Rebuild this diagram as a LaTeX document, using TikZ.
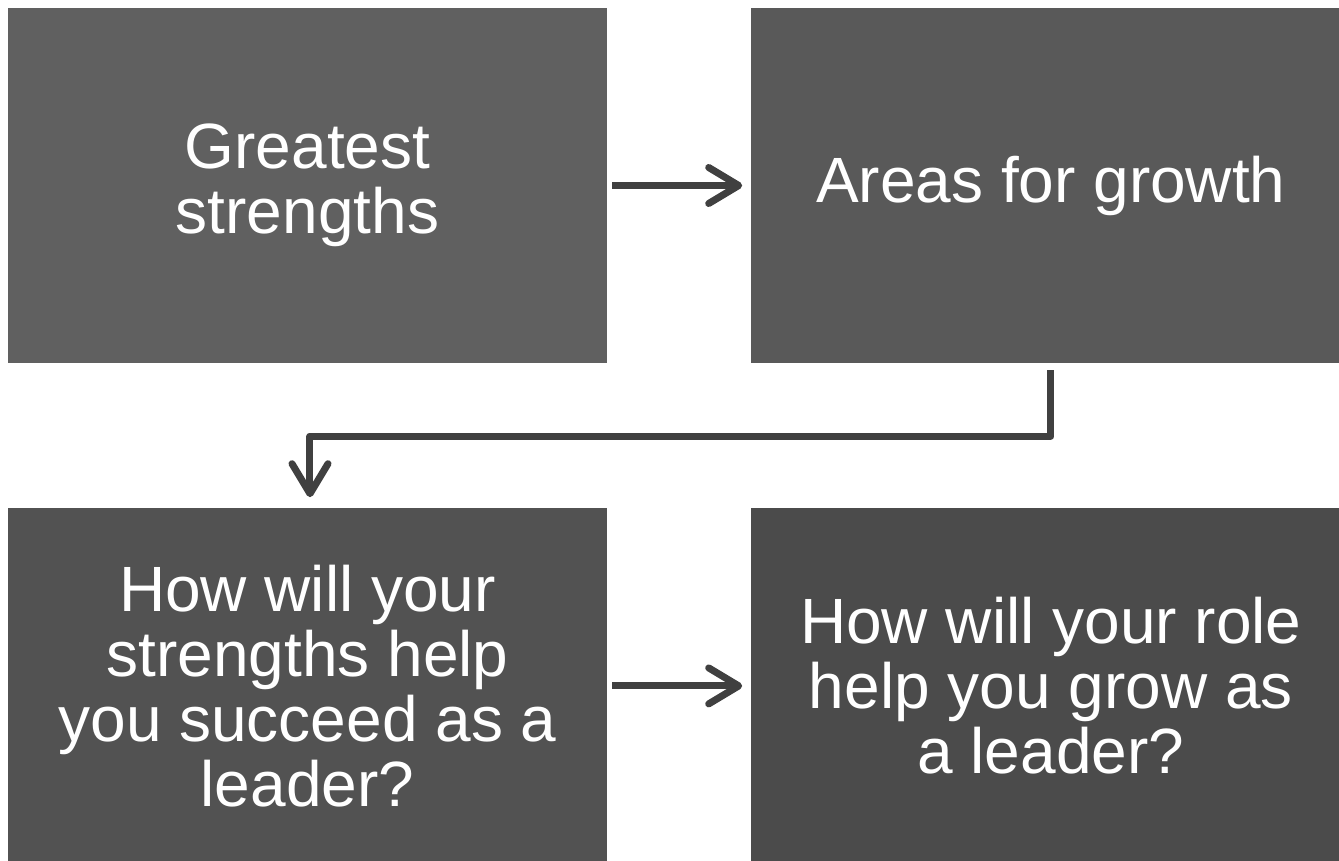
\documentclass[tikz,border=0pt]{standalone}
\usepackage{fontspec}
\setmainfont{Liberation Sans}
\usetikzlibrary{arrows.meta,positioning,calc}

\definecolor{boxA}{HTML}{606060}
\definecolor{boxB}{HTML}{595959}
\definecolor{boxC}{HTML}{525252}
\definecolor{boxD}{HTML}{4B4B4B}
\definecolor{arrowgray}{HTML}{404040}

\begin{document}
\begin{tikzpicture}[
  x=1pt, y=1pt,
  >={Straight Barb[length=30pt, width=36pt, round]},
  card/.style={inner sep=0pt, minimum width=599pt, minimum height=355pt, align=center,
    text=white, font=\fontsize{64}{65}\selectfont},
  link/.style={->, line width=7pt, arrowgray}
]

% page frame, boxes on the right run off the edge
\useasboundingbox (-307.5,185.5) rectangle ++(1339,-861);

\node[card, fill=boxA] (strengths) at (0,0) {Greatest\\strengths};
\node[card, fill=boxB, right=144pt of strengths] (growth) {Areas for growth};
\node[card, fill=boxC, below=145pt of strengths] (succeed) {How will your\\strengths help\\you succeed as a\\leader?};
\node[card, fill=boxD, right=144pt of succeed] (role) {How will your role\\help you grow as\\a leader?};

\draw[link, shorten <=5pt, shorten >=9pt] (strengths) -- (growth);
\draw[link, shorten <=5pt, shorten >=9pt] (succeed) -- (role);
\draw[link, line join=round, shorten <=7pt, shorten >=11pt]
  (growth.south) -- ++(0,-73) -| ($(succeed.north)+(2.5,0)$);

\end{tikzpicture}
\end{document}
